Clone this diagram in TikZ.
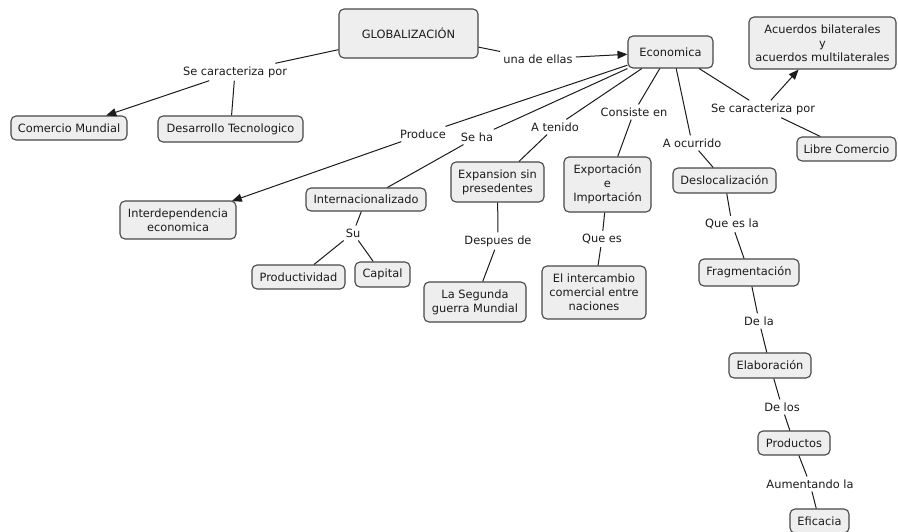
\documentclass[tikz,border=0pt]{standalone}
\usepackage{fontspec}
\setmainfont{DejaVu Sans}
\usetikzlibrary{arrows.meta}
\definecolor{boxfill}{HTML}{EEEEEE}
\definecolor{boxline}{HTML}{474747}
\definecolor{ink}{HTML}{1C1C1C}
\begin{document}
\begin{tikzpicture}[x=1pt,y=-1pt,
  font=\fontsize{11.4}{14}\selectfont,
  concept/.style={draw=boxline, fill=boxfill, rounded corners=5pt, line width=1.1pt,
                  align=center, text=ink, inner sep=0pt},
  linkword/.style={text=ink, inner sep=3pt, align=center},
  link/.style={draw=ink, line width=1pt},
  tip/.style={link, -{Triangle[length=10pt,width=8pt]}},
]
\useasboundingbox (0,0) rectangle (898,531);
\fill[white] (0,0) rectangle (898,531);

% concepts
\node[concept, minimum width=139pt, minimum height=49pt] (glob)  at (408.5,33.5) {GLOBALIZACIÓN};
\node[concept, minimum width=85pt,  minimum height=32pt] (eco)   at (670.5,52)   {Economica};
\node[concept, minimum width=147pt, minimum height=52pt] (acu)   at (822.5,43)   {Acuerdos bilaterales\\y\\acuerdos multilaterales};
\node[concept, minimum width=99pt,  minimum height=24pt] (libre) at (846.5,149)  {Libre Comercio};
\node[concept, minimum width=116pt, minimum height=24pt] (comm)  at (69,128)     {Comercio Mundial};
\node[concept, minimum width=145pt, minimum height=26pt] (des)   at (230.5,129)  {Desarrollo Tecnologico};
\node[concept, minimum width=116pt, minimum height=38pt] (inter) at (178,220)    {Interdependencia\\economica};
\node[concept, minimum width=120pt, minimum height=23pt] (intl)  at (366,199.5)  {Internacionalizado};
\node[concept, minimum width=93pt,  minimum height=24pt] (prod)  at (298.5,277)  {Productividad};
\node[concept, minimum width=55pt,  minimum height=25pt] (cap)   at (382.5,274.5){Capital};
\node[concept, minimum width=93pt,  minimum height=40pt] (exp)   at (497.5,182)  {Expansion sin\\presedentes};
\node[concept, minimum width=102pt, minimum height=40pt] (seg)   at (475,302)    {La Segunda\\guerra Mundial};
\node[concept, minimum width=87pt,  minimum height=55pt] (expo)  at (607.5,184.5){Exportación\\e\\Importación};
\node[concept, minimum width=104pt, minimum height=53pt] (inc)   at (594,292.5)  {El intercambio\\comercial entre\\naciones};
\node[concept, minimum width=103pt, minimum height=25pt] (desl)  at (724.5,180.5){Deslocalización};
\node[concept, minimum width=100pt, minimum height=27pt] (frag)  at (749,272.5)  {Fragmentación};
\node[concept, minimum width=82pt,  minimum height=25pt] (ela)   at (770,365.5)  {Elaboración};
\node[concept, minimum width=72pt,  minimum height=24pt] (prods) at (794,443)    {Productos};
\node[concept, minimum width=59pt,  minimum height=24pt] (efi)   at (819.5,521)  {Eficacia};

% linking words
\node[linkword] (sc1)   at (235,72)  {Se caracteriza por};
\node[linkword] (una)   at (538,59)  {una de ellas};
\node[linkword] (produ) at (423,134) {Produce};
\node[linkword] (seha)  at (477,137) {Se ha};
\node[linkword] (aten)  at (555,127) {A tenido};
\node[linkword] (cons)  at (634,112) {Consiste en};
\node[linkword] (ocur)  at (692,143) {A ocurrido};
\node[linkword] (sc2)   at (763,109) {Se caracteriza por};
\node[linkword] (su)    at (353,233) {Su};
\node[linkword] (desp)  at (498,241) {Despues de};
\node[linkword] (quees) at (602,239) {Que es};
\node[linkword] (qesla) at (732,224) {Que es la};
\node[linkword] (dela)  at (759,321) {De la};
\node[linkword] (delos) at (782,407) {De los};
\node[linkword] (aum)   at (810,484) {Aumentando la};

% connectors
\draw[link] (glob.193) -- (sc1);
\draw[tip]  (sc1) -- (comm);
\draw[link] (sc1) -- (des);
\draw[link] (glob.-11) -- (una);
\draw[tip]  (una) -- (eco);

\draw[link] (eco.197) -- (produ);
\draw[tip, shorten >=-2pt]  (produ) -- (inter);
\draw[link] (eco.south west) -- (seha);
\draw[link] (seha) -- (intl);
\draw[link] (eco.210) -- (aten);
\draw[link] (aten) -- (exp);
\draw[link] (eco.237) -- (cons);
\draw[link] (cons) -- (expo);
\draw[link] (eco.289) -- (ocur);
\draw[link] (ocur) -- (desl);
\draw[link] (eco.330) -- (sc2);
\draw[link] (sc2) -- (libre);
\draw[tip]  (sc2) -- (acu);

\draw[link] (intl) -- (su);
\draw[link] (su) -- (prod);
\draw[link] (su) -- (cap);
\draw[link] (exp) -- (desp);
\draw[link] (desp) -- (seg);
\draw[link] (expo) -- (quees);
\draw[link] (quees) -- (inc);
\draw[link] (desl) -- (qesla);
\draw[link] (qesla) -- (frag);
\draw[link] (frag) -- (dela);
\draw[link] (dela) -- (ela);
\draw[link] (ela) -- (delos);
\draw[link] (delos) -- (prods);
\draw[link] (prods) -- (aum);
\draw[link] (aum) -- (efi);
\end{tikzpicture}
\end{document}
